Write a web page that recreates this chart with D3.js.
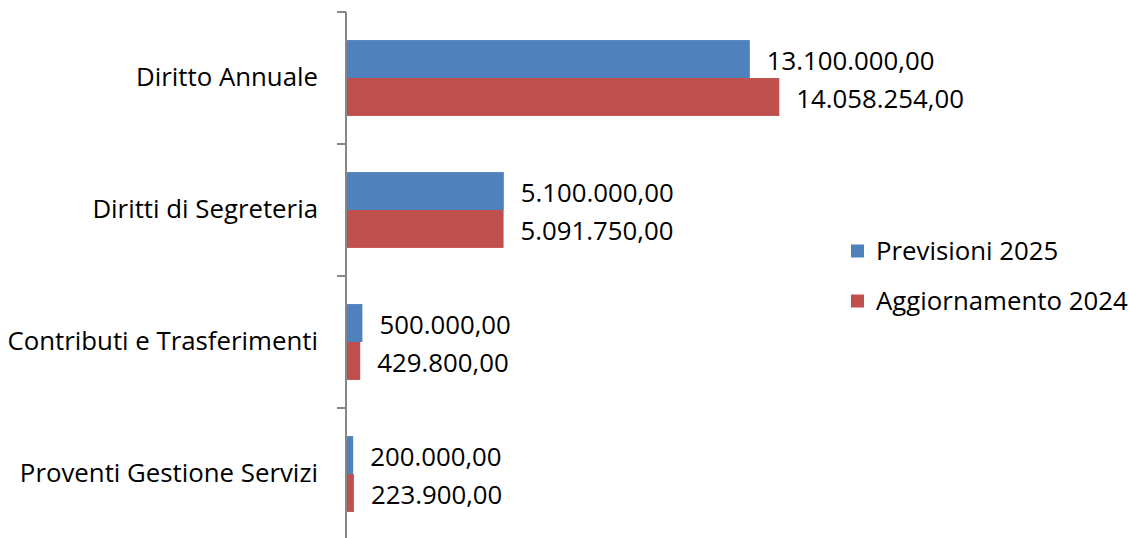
<!DOCTYPE html>
<html>
<head>
<meta charset="utf-8">
<script src="https://cdn.jsdelivr.net/npm/d3@7"></script>
<style>
  body { margin: 0; background: #fff; }
  #chart { width: 1129px; height: 538px; }
</style>
</head>
<body>
<div id="chart"></div>
<script>
// data
const categories = ["Diritto Annuale", "Diritti di Segreteria", "Contributi e Trasferimenti", "Proventi Gestione Servizi"];
const seriesNames = ["Previsioni 2025", "Aggiornamento 2024"];
const previsioni2025 = [13100000, 5100000, 500000, 200000];
const aggiornamento2024 = [14058254, 5091750, 429800, 223900];
const colors = ["#4F81BD", "#C0504D"];

const width = 1129, height = 538;
const margin = ({ top: 12, right: 0, bottom: -2, left: 346 });
const font = "'Open Sans', sans-serif";
const fontSize = 25.8;

const svg = d3.select("#chart")
  .append("svg")
  .attr("width", width)
  .attr("height", height)
  .style("font-family", font);

const y = d3.scaleBand()
  .domain(categories)
  .range([margin.top, height - margin.bottom])
  .paddingInner(0)
  .paddingOuter(0);

const ySub = d3.scaleBand()
  .domain(seriesNames)
  .range([0, y.bandwidth()])
  .paddingInner(0)
  .paddingOuter(0.74);

// about 30.76 px per million
const x = d3.scaleLinear()
  .domain([0, 20000000])
  .range([margin.left + 1, margin.left + 1 + 615]);

const fmt = v => d3.format(",.2f")(v).replace(/,/g, "#").replace(".", ",").replace(/#/g, ".");

const data = categories.map((c, i) => ({
  cat: c,
  vals: [previsioni2025[i], aggiornamento2024[i]]
}));

const groups = svg.append("g")
  .selectAll("g")
  .data(data)
  .enter().append("g")
  .attr("transform", d => "translate(0," + y(d.cat) + ")");

groups.selectAll("rect")
  .data(d => d.vals.map((v, j) => ({ key: seriesNames[j], v: v, j: j })))
  .enter().append("rect")
  .attr("x", x(0))
  .attr("y", d => ySub(d.key))
  .attr("width", d => x(d.v) - x(0))
  .attr("height", ySub.bandwidth())
  .attr("fill", d => colors[d.j]);

groups.selectAll("text.val")
  .data(d => d.vals.map((v, j) => ({ key: seriesNames[j], v: v, j: j })))
  .enter().append("text")
  .attr("class", "val")
  .attr("x", d => x(d.v) + 17)
  .attr("y", d => ySub(d.key) + ySub.bandwidth() / 2 + 2)
  .attr("dy", "0.35em")
  .attr("font-size", fontSize)
  .attr("fill", "#000")
  .text(d => fmt(d.v));

// axis
const axis = svg.append("g")
  .attr("transform", "translate(" + margin.left + ",0)")
  .call(d3.axisLeft(y).tickSize(0).tickPadding(28).tickSizeOuter(0));
axis.select(".domain").attr("stroke", "#868686").attr("stroke-width", 2)
  .attr("d", "M0," + margin.top + "V" + (height + 2));
axis.selectAll("text").attr("font-size", fontSize).attr("fill", "#000")
  .style("font-family", font);

// tick marks at category boundaries
svg.append("g")
  .selectAll("line")
  .data(categories.map(c => y(c)).concat([y(categories[3]) + y.bandwidth()]))
  .enter().append("line")
  .attr("x1", margin.left - 9)
  .attr("x2", margin.left)
  .attr("y1", d => d)
  .attr("y2", d => d)
  .attr("stroke", "#868686")
  .attr("stroke-width", 2);

// legend
const legend = svg.append("g")
  .selectAll("g")
  .data(seriesNames)
  .enter().append("g")
  .attr("transform", (d, i) => "translate(851," + (251 + i * 50) + ")");

legend.append("rect")
  .attr("x", 0).attr("y", -6.5)
  .attr("width", 13).attr("height", 13)
  .attr("fill", (d, i) => colors[i]);

legend.append("text")
  .attr("x", 25)
  .attr("dy", "0.35em")
  .attr("font-size", fontSize)
  .text(d => d);
</script>
</body>
</html>
